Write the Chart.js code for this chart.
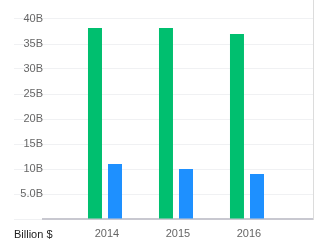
<!DOCTYPE html>
<html lang="en">

<head>
    <meta charset="UTF-8">
    <title>Billion $</title>
    <script src="https://cdn.jsdelivr.net/npm/chart.js"></script>
    <style>
        body { margin: 0; background: #fff; }
        .box { position: relative; width: 314px; height: 250px; }
        .unit { position: absolute; left: 14px; top: 228px; font: 11px "Liberation Sans", Arial, sans-serif; color: #222; }
    </style>
</head>

<body>
    <div class="box">
        <canvas id="barChart"></canvas>
        <div class="unit">Billion $</div>
    </div>

<script>
    // dados
    var anos = ["2014", "2015", "2016"];
    var serieVerde = [38.2, 38.2, 37];
    var serieAzul = [11, 10, 9];
    var ticksY = [0, 5, 10, 15, 20, 25, 30, 35, 40];

    var fonte = { family: "'Liberation Sans', Arial, sans-serif", size: 11 };

    const config = {
        type: "bar",
        data: {
            datasets: [
                {
                    label: "A",
                    data: anos.map(function (a, i) { return { x: i + 1, y: serieVerde[i] }; }),
                    backgroundColor: "#00bf6f"
                },
                {
                    label: "B",
                    data: anos.map(function (a, i) { return { x: i + 1, y: serieAzul[i] }; }),
                    backgroundColor: "#1e90ff"
                }
            ]
        },
        options: {
            responsive: true,
            maintainAspectRatio: false,
            animation: false,
            layout: { padding: { left: 14, top: 0, right: 0, bottom: 0 } },
            barPercentage: 0.7,
            categoryPercentage: 0.5634,
            plugins: { legend: { display: false }, tooltip: { enabled: false } },
            scales: {
                x: {
                    type: "linear",
                    offset: false,
                    min: 0.1268,
                    max: 3.93,
                    grid: { display: false, drawTicks: false, offset: false },
                    border: { display: true, color: "#c8c8d0", width: 2 },
                    ticks: {
                        padding: 8,
                        labelOffset: 2,
                        color: "#666",
                        font: fonte,
                        callback: function (v) { return anos[v - 1] || ""; }
                    },
                    afterBuildTicks: function (axis) {
                        axis.ticks = anos.map(function (a, i) { return { value: i + 1 }; });
                    },
                    afterFit: function (axis) { axis.height = 31; }
                },
                y: {
                    min: 0,
                    max: 43.8,
                    grid: { color: "#f0f1f3", tickLength: 29 },
                    border: { display: false },
                    ticks: {
                        padding: -29,
                        color: "#666",
                        font: fonte,
                        callback: function (v) {
                            if (v === 0) return "";
                            return (v < 10 ? v.toFixed(1) : v) + "B";
                        }
                    },
                    afterBuildTicks: function (axis) {
                        axis.ticks = ticksY.map(function (v) { return { value: v }; });
                    },
                    afterFit: function (axis) { axis.width = 29; }
                },
                y2: {
                    position: "right",
                    min: 0,
                    max: 43.8,
                    grid: { display: false },
                    border: { display: true, color: "#dcdcdc", width: 1 },
                    ticks: { display: false },
                    afterFit: function (axis) { axis.width = 1; }
                }
            }
        }
    };

    var grafico = new Chart(document.getElementById("barChart"), config);
</script>
</body>

</html>
